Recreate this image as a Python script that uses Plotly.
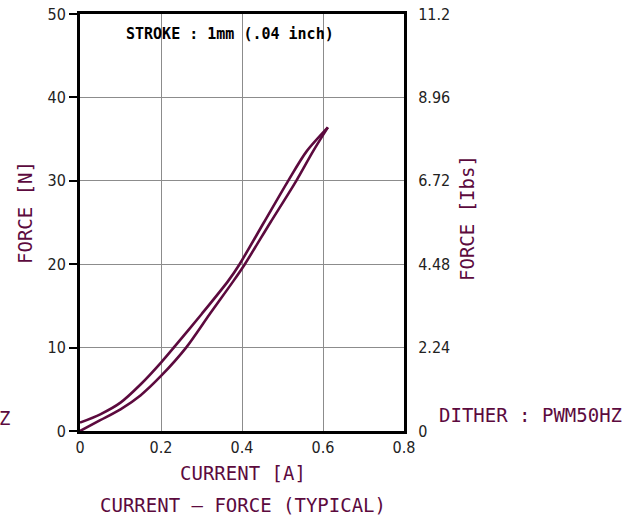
import plotly.graph_objects as go

# Data
current_up = [0.0, 0.05, 0.10, 0.15, 0.20, 0.235, 0.30, 0.366, 0.394, 0.454, 0.514, 0.559, 0.612]
force_up = [1.0, 2.0, 3.4, 5.6, 8.2, 10.2, 14.0, 18.0, 20.0, 25.0, 30.0, 33.5, 36.4]
current_down = [0.0, 0.05, 0.10, 0.15, 0.20, 0.262, 0.32, 0.379, 0.407, 0.470, 0.534, 0.575, 0.612]
force_down = [0.0, 1.3, 2.6, 4.3, 6.6, 10.0, 14.0, 18.0, 20.0, 25.0, 30.0, 33.5, 36.4]

x_ticks = [0, 0.2, 0.4, 0.6, 0.8]
x_ticktext = ["0", "0.2", "0.4", "0.6", "0.8"]
yN_ticks = [0, 10, 20, 30, 40, 50]
ylbs_ticks = [0, 2.24, 4.48, 6.72, 8.96, 11.2]
ylbs_ticktext = ["0", "2.24", "4.48", "6.72", "8.96", "11.2"]

MAROON = "#5c0a3e"
TICKFONT = dict(family="DejaVu Sans Condensed, Liberation Sans Narrow, Roboto, sans-serif", size=16, color="#222222")
MONO = "DejaVu Sans Mono, Liberation Mono, monospace"

W, H = 636, 520
L, R, T, B = 80, 404, 14, 431

def px(x):
    return (x - L) / (R - L)

def py(y):
    return (B - y) / (B - T)

fig = go.Figure()
for xs, ys in [(current_up, force_up), (current_down, force_down)]:
    fig.add_trace(go.Scatter(
        x=xs, y=ys, mode="lines",
        line=dict(color=MAROON, width=2.6, shape="spline", smoothing=0.8),
        showlegend=False, hoverinfo="skip",
    ))
# invisible trace on right axis
fig.add_trace(go.Scatter(x=[0], y=[0], yaxis="y2", mode="markers",
                         marker=dict(opacity=0), showlegend=False, hoverinfo="skip"))

fig.update_layout(
    width=W, height=H,
    margin=dict(l=L, r=W - R, t=T, b=H - B),
    plot_bgcolor="white", paper_bgcolor="white",
    xaxis=dict(
        range=[0, 0.8], tickvals=x_ticks, ticktext=x_ticktext, automargin=False,
        showgrid=True, gridcolor="#8c8c8c", gridwidth=1, zeroline=False,
        showline=True, linecolor="black", linewidth=3, mirror=True,
        ticks="", tickfont=TICKFONT,
    ),
    yaxis=dict(
        range=[0, 50], tickvals=yN_ticks, automargin=False,
        showgrid=True, gridcolor="#8c8c8c", gridwidth=1, zeroline=False,
        showline=True, linecolor="black", linewidth=3, mirror=True,
        ticks="outside", ticklen=8, tickwidth=1.5, tickcolor="black",
        tickfont=TICKFONT,
    ),
    yaxis2=dict(
        range=[0, 11.2], tickvals=ylbs_ticks, ticktext=ylbs_ticktext, automargin=False,
        overlaying="y", side="right", showgrid=False, zeroline=False,
        showline=False, ticks="outside", ticklen=10, tickcolor="rgba(0,0,0,0)",
        tickfont=TICKFONT,
    ),
)

ann = [
    dict(text="STROKE : 1mm (.04 inch)", x=px(230), y=py(34),
         font=dict(family=MONO, size=15, color="black", weight="bold")),
    dict(text="FORCE [N]", x=px(25), y=py(213), textangle=-90,
         font=dict(family=MONO, size=19, color=MAROON)),
    dict(text="FORCE [Ibs]", x=px(467), y=py(218), textangle=-90,
         font=dict(family=MONO, size=19, color=MAROON)),
    dict(text="CURRENT [A]", x=px(243), y=py(473),
         font=dict(family=MONO, size=19, color=MAROON)),
    dict(text="CURRENT – FORCE (TYPICAL)", x=px(243), y=py(505),
         font=dict(family=MONO, size=19, color=MAROON)),
    dict(text="DITHER : PWM50HZ", x=px(530), y=py(415),
         font=dict(family=MONO, size=19, color=MAROON)),
    dict(text="Z", x=px(-3), y=py(418), xanchor="left",
         font=dict(family=MONO, size=19, color=MAROON)),
]
for a in ann:
    a.setdefault("xanchor", "center")
    fig.add_annotation(xref="paper", yref="paper", showarrow=False, yanchor="middle", **a)

fig.write_html("out.html")
